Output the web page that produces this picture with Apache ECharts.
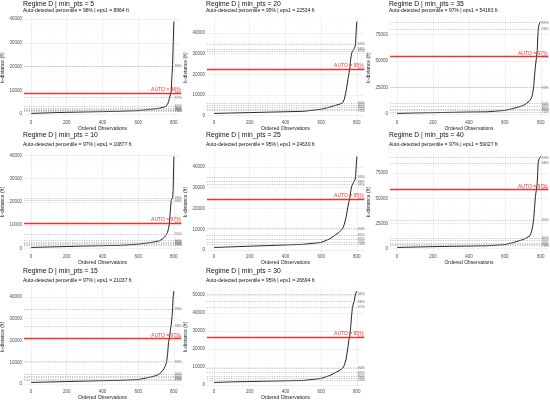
<!DOCTYPE html>
<html>
<head>
<meta charset="utf-8">
<title>Regime D k-distance plots</title>
<script src="https://cdn.jsdelivr.net/npm/echarts@6.0.0/dist/echarts.min.js"></script>
<style>
  html, body { margin: 0; padding: 0; background: #fff; }
  #main { width: 550px; height: 403px; }
</style>
</head>
<body>
<div id="main"></div>
<script>
// sampled positions along the sorted k-distance curve (800 observations)
const obs = [1, 100, 200, 300, 400, 500, 600, 650, 700, 720, 730, 740, 750, 755, 760, 765, 770, 775, 780, 785, 790, 793, 796, 800];

// k-distance (ft)
const kd5  = [300, 550, 750, 900, 1050, 1200, 1500, 1850, 2300, 2500, 2700, 2900, 3100, 3250, 3400, 4200, 5200, 6600, 8000, 9500, 17000, 21000, 29000, 39000];
const kd20 = [1100, 1300, 1500, 1700, 1900, 2100, 3100, 4200, 5500, 6100, 8000, 12000, 17500, 20000, 22534, 27000, 30000, 31000, 31700, 32400, 33500, 35000, 41000, 45500];
const kd35 = [700, 1100, 1400, 1700, 2000, 2200, 3500, 5500, 8000, 10000, 11500, 13000, 16000, 20000, 25000, 36000, 45000, 52000, 60000, 79000, 84000, 85500, 86300, 87000];
const kd10 = [400, 600, 800, 1000, 1150, 1300, 1800, 2300, 2900, 3300, 3700, 4200, 5000, 5500, 6000, 7000, 8500, 10500, 16000, 20600, 21200, 21800, 25000, 39500];
const kd25 = [1300, 1600, 1900, 2200, 2500, 2800, 3700, 5500, 8500, 10300, 12500, 16000, 21000, 23000, 24630, 28000, 30500, 31300, 32300, 33200, 34000, 35500, 40000, 45000];
const kd40 = [1200, 1600, 2000, 2300, 2600, 2900, 4000, 6200, 9000, 10600, 12000, 13000, 18000, 23000, 28700, 40000, 52000, 58000, 65000, 85000, 89000, 90500, 91000, 91500];
const kd15 = [800, 1000, 1200, 1400, 1600, 1750, 2100, 2900, 3900, 4700, 5500, 6500, 8000, 9000, 10300, 14000, 19000, 21000, 24500, 27000, 31000, 35000, 40000, 42600];
const kd30 = [1500, 1800, 2000, 2200, 2400, 2600, 3700, 5400, 8000, 9300, 11000, 14500, 21000, 25000, 26694, 32000, 38000, 43000, 45000, 46500, 49500, 50500, 51500, 52200];

// percentile reference lines
const pctLabels = ['70%', '75%', '80%', '85%', '90%', '95%', '97%', '98%', '99%'];
const pct5  = [1300, 1500, 1800, 2100, 2500, 3400, 7000, 8964, 20300];
const pct20 = [2400, 3100, 4000, 5000, 6100, 22534, 31200, 32300, 34700];
const pct35 = [2200, 3500, 4700, 7500, 10000, 25000, 54183, 80000, 86000];
const pct10 = [1500, 1800, 2100, 2600, 3300, 6000, 10877, 20500, 21500];
const pct25 = [3000, 3700, 5200, 7200, 10300, 24630, 31500, 33000, 35000];
const pct40 = [3000, 4000, 5600, 8200, 10600, 28700, 59027, 84900, 90500];
const pct15 = [1800, 2300, 3000, 3800, 4700, 10300, 21037, 26600, 34200];
const pct30 = [2800, 3700, 5000, 6900, 9300, 26694, 43100, 46300, 50400];

// panels in reading order (row by row)
const minPts  = [5, 20, 35, 10, 25, 40, 15, 30];
const autoPct = ['98%', '95%', '97%', '97%', '95%', '97%', '97%', '95%'];
const eps1    = [8964, 22534, 54183, 10877, 24630, 59027, 21037, 26694];

const xTicks = [0, 200, 400, 600, 800];
const xMinor = [100, 300, 500, 700];
const yTicks40 = [0, 10000, 20000, 30000, 40000];
const yMinor40 = [5000, 15000, 25000, 35000, 45000];
const yTicks50 = [0, 10000, 20000, 30000, 40000, 50000];
const yMinor50 = [5000, 15000, 25000, 35000, 45000, 55000];
const yTicks75 = [0, 25000, 50000, 75000];
const yMinor75 = [12500, 37500, 62500, 87500];

const curves = [kd5, kd20, kd35, kd10, kd25, kd40, kd15, kd30];
const pcts = [pct5, pct20, pct35, pct10, pct25, pct40, pct15, pct30];
const yMajor = [yTicks40, yTicks40, yTicks75, yTicks40, yTicks40, yTicks75, yTicks40, yTicks50];
const yMinorAll = [yMinor40, yMinor40, yMinor75, yMinor40, yMinor40, yMinor75, yMinor40, yMinor50];

// layout (px)
const colLeft = [24, 207, 390], colW = [157, 157, 158];
const rowTop = [17, 152, 286.5], rowH = [101, 100, 100.5];
const titleTop = [0.5, 132, 268], subTop = [8.5, 142, 278];

const FONT = 'Liberation Sans, Arial, sans-serif';
const nObs = 800;
const xPad = 0.05 * (nObs - 1);

let grids = [], xAxes = [], yAxes = [], series = [], titles = [];

curves.forEach(function (kd, i) {
  const r = Math.floor(i / 3), c = i % 3;
  grids.push({ left: colLeft[c], top: rowTop[r], width: colW[c], height: rowH[r], outerBoundsMode: 'none' });

  const all = kd.concat(pcts[i]);
  const lo = Math.min.apply(null, all), hi = Math.max.apply(null, all);
  const pad = 0.05 * (hi - lo);
  const yMin = lo - pad, yMax = hi + pad;
  const xMin = 1 - xPad, xMax = nObs + xPad;

  // major axes
  xAxes.push({
    type: 'value', gridIndex: i, min: xMin, max: xMax, position: 'bottom',
    name: 'Ordered Observations', nameLocation: 'middle', nameGap: 8,
    nameTextStyle: { fontSize: 5, color: '#222', fontFamily: FONT },
    axisLine: { show: false }, axisTick: { show: false, customValues: xTicks },
    axisLabel: { customValues: xTicks, fontSize: 4.5, color: '#4d4d4d', margin: 2, fontFamily: FONT,
      formatter: function (v) { return String(v); } },
    splitLine: { show: true, lineStyle: { color: '#e6e6e6', width: 0.6 } }
  });
  yAxes.push({
    type: 'value', gridIndex: i, min: yMin, max: yMax, position: 'left',
    name: 'k-distance (ft)', nameLocation: 'middle', nameGap: 16, nameRotate: 90,
    nameTextStyle: { fontSize: 5, color: '#222', fontFamily: FONT },
    axisLine: { show: false }, axisTick: { show: false, customValues: yMajor[i] },
    axisLabel: { customValues: yMajor[i], fontSize: 4.5, color: '#4d4d4d', margin: 2, fontFamily: FONT,
      formatter: function (v) { return String(v); } },
    splitLine: { show: true, lineStyle: { color: '#e6e6e6', width: 0.6 } }
  });
  // minor grid axes
  xAxes.push({
    type: 'value', gridIndex: i, min: xMin, max: xMax, position: 'bottom',
    axisLine: { show: false }, axisTick: { show: false, customValues: xMinor },
    axisLabel: { show: false, customValues: xMinor },
    splitLine: { show: true, lineStyle: { color: '#f2f2f2', width: 0.4 } }
  });
  yAxes.push({
    type: 'value', gridIndex: i, min: yMin, max: yMax, position: 'left',
    axisLine: { show: false },
    axisTick: { show: false, customValues: yMinorAll[i].filter(v => v > yMin && v < yMax) },
    axisLabel: { show: false, customValues: yMinorAll[i].filter(v => v > yMin && v < yMax) },
    splitLine: { show: true, lineStyle: { color: '#f2f2f2', width: 0.4 } }
  });

  const xi = 2 * i, yi = 2 * i;

  let lines = pcts[i].map(function (v) {
    return { yAxis: v, lineStyle: { color: '#a0a0a0', type: [1.2, 1.2], width: 0.6 } };
  });
  lines.push({ yAxis: eps1[i], lineStyle: { color: 'rgba(240,20,20,0.85)', type: 'solid', width: 1.3 } });

  series.push({
    type: 'line', xAxisIndex: xi, yAxisIndex: yi,
    data: obs.map(function (o, k) { return [o, kd[k]]; }),
    symbol: 'none', smooth: false, z: 3,
    lineStyle: { color: '#111', width: 0.9 },
    markLine: { silent: true, symbol: ['none', 'none'], label: { show: false }, animation: false, data: lines }
  });

  // percentile labels at the right end of the lines
  series.push({
    type: 'scatter', xAxisIndex: xi, yAxisIndex: yi, silent: true, symbolSize: 0, z: 4,
    data: pcts[i].map(function (v, k) { return [nObs, v, pctLabels[k]]; }),
    label: { show: true, position: 'right', distance: 1, fontSize: 3.6, color: '#555', fontFamily: FONT,
      formatter: function (p) { return p.value[2]; } }
  });
  // AUTO label above the red line
  series.push({
    type: 'scatter', xAxisIndex: xi, yAxisIndex: yi, silent: true, symbolSize: 0, z: 6,
    data: [[755, eps1[i], 'AUTO = ' + autoPct[i]]],
    label: { show: true, position: 'top', distance: 0.5, fontSize: 5, color: '#f00000', fontFamily: FONT,
      formatter: function (p) { return p.value[2]; } }
  });

  titles.push({
    text: 'Regime D | min_pts = ' + minPts[i], left: colLeft[c] - 1, top: titleTop[r], padding: 0,
    textStyle: { fontSize: 6.8, fontWeight: 'normal', color: '#111', fontFamily: FONT }
  });
  titles.push({
    text: 'Auto-detected percentile = ' + autoPct[i] + ' | eps1 = ' + eps1[i] + ' ft',
    left: colLeft[c] - 1, top: subTop[r], padding: 0,
    textStyle: { fontSize: 5, fontWeight: 'normal', color: '#111', fontFamily: FONT }
  });
});

let chart = echarts.init(document.getElementById('main'), null, { renderer: 'canvas' });
chart.setOption({
  animation: false,
  backgroundColor: '#fff',
  title: titles,
  grid: grids,
  xAxis: xAxes,
  yAxis: yAxes,
  series: series
});
</script>
</body>
</html>
